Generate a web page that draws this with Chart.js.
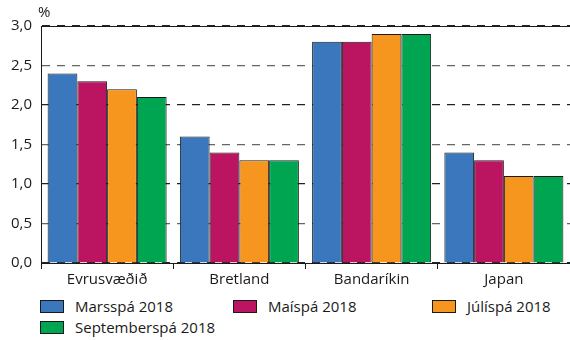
<!DOCTYPE html>
<html>
<head>
<meta charset="utf-8">
<script src="https://cdn.jsdelivr.net/npm/chart.js@4/dist/chart.umd.min.js"></script>
<style>
  body { margin: 0; background: #fff; font-family: "Open Sans", sans-serif; }
  #wrap { position: relative; width: 570px; height: 340px; }
  #chartBox { position: absolute; left: 0; top: 0; width: 570px; height: 295px; }
  #legend { position: absolute; left: 0; top: 296px; width: 570px; height: 44px; }
  .item { position: absolute; display: flex; align-items: center; font-size: 15px; color: #1a1a1a; white-space: nowrap; }
  .box { width: 22px; height: 11px; border: 1px solid #1a1a1a; margin-right: 11px; }
</style>
</head>
<body>
<div id="wrap">
  <div id="chartBox"><canvas id="myChart"></canvas></div>
  <div id="legend"></div>
</div>
<script>
// categories and series values
const categories = ["Evrusvæðið", "Bretland", "Bandaríkin", "Japan"];
const seriesNames = ["Marsspá 2018", "Maíspá 2018", "Júlíspá 2018", "Septemberspá 2018"];
const marsValues = [2.4, 1.6, 2.8, 1.4];
const maiValues = [2.3, 1.4, 2.8, 1.3];
const juliValues = [2.2, 1.3, 2.9, 1.1];
const septValues = [2.1, 1.3, 2.9, 1.1];
const yTicks = [0, 0.5, 1, 1.5, 2, 2.5, 3];

const colors = ["#3a77bc", "#bb1561", "#f7961e", "#00a552"];
const allValues = [marsValues, maiValues, juliValues, septValues];

Chart.defaults.font.family = "'Open Sans', sans-serif";
Chart.defaults.font.size = 15;
Chart.defaults.color = "#1a1a1a";

// draws the solid top line and the "%" unit label
const extras = {
  id: "extras",
  afterDraw(chart) {
    const ctx = chart.ctx;
    const area = chart.chartArea;
    ctx.save();
    ctx.strokeStyle = "#1a1a1a";
    ctx.lineWidth = 1;
    ctx.beginPath();
    ctx.moveTo(area.left, area.top + 0.5);
    ctx.lineTo(area.right, area.top + 0.5);
    ctx.stroke();
    ctx.fillStyle = "#1a1a1a";
    ctx.font = "15px 'Open Sans', sans-serif";
    ctx.textAlign = "left";
    ctx.textBaseline = "middle";
    ctx.fillText("%", area.left - 3, area.top - 13);
    ctx.restore();
  }
};

const datasets = seriesNames.map((name, i) => ({
  label: name,
  data: allValues[i],
  backgroundColor: colors[i],
  borderColor: "#1a1a1a",
  borderWidth: 1,
  categoryPercentage: 0.9,
  barPercentage: 1.0
}));

const myChart = new Chart(document.getElementById("myChart"), {
  type: "bar",
  data: { labels: categories, datasets: datasets },
  options: {
    responsive: true,
    maintainAspectRatio: false,
    animation: false,
    layout: { padding: { top: 26, right: 0, left: 0, bottom: 0 } },
    scales: {
      x: {
        afterFit(scale) { scale.height = 32; },
        grid: {
          offset: true,
          drawOnChartArea: false,
          drawTicks: true,
          tickLength: 6,
          color: "#1a1a1a"
        },
        border: { color: "#1a1a1a", width: 1 },
        ticks: { padding: 2 }
      },
      y: {
        min: 0,
        max: 3,
        afterFit(scale) { scale.width = 41; },
        afterBuildTicks(scale) { scale.ticks = yTicks.map(v => ({ value: v })); },
        grid: {
          drawTicks: false,
          lineWidth: 1.2,
          color: (c) => (c.tick && c.tick.value % 1 ? "#666" : "#222")
        },
        border: { display: true, color: "#1a1a1a", width: 1, dash: [8, 7] },
        ticks: {
          padding: 9,
          callback: (v) => v.toFixed(1).replace(".", ",")
        }
      }
    },
    plugins: {
      legend: { display: false },
      tooltip: { enabled: false }
    }
  },
  plugins: [extras]
});

// html legend in three columns
const legendEl = document.getElementById("legend");
const colLeft = [40, 233, 432];
myChart.data.datasets.forEach((ds, i) => {
  const item = document.createElement("div");
  item.className = "item";
  item.style.left = colLeft[i % 3] + "px";
  item.style.top = (Math.floor(i / 3) * 21) + "px";
  item.innerHTML = '<span class="box" style="background:' + ds.backgroundColor + '"></span>' + ds.label;
  legendEl.appendChild(item);
});
</script>
</body>
</html>
